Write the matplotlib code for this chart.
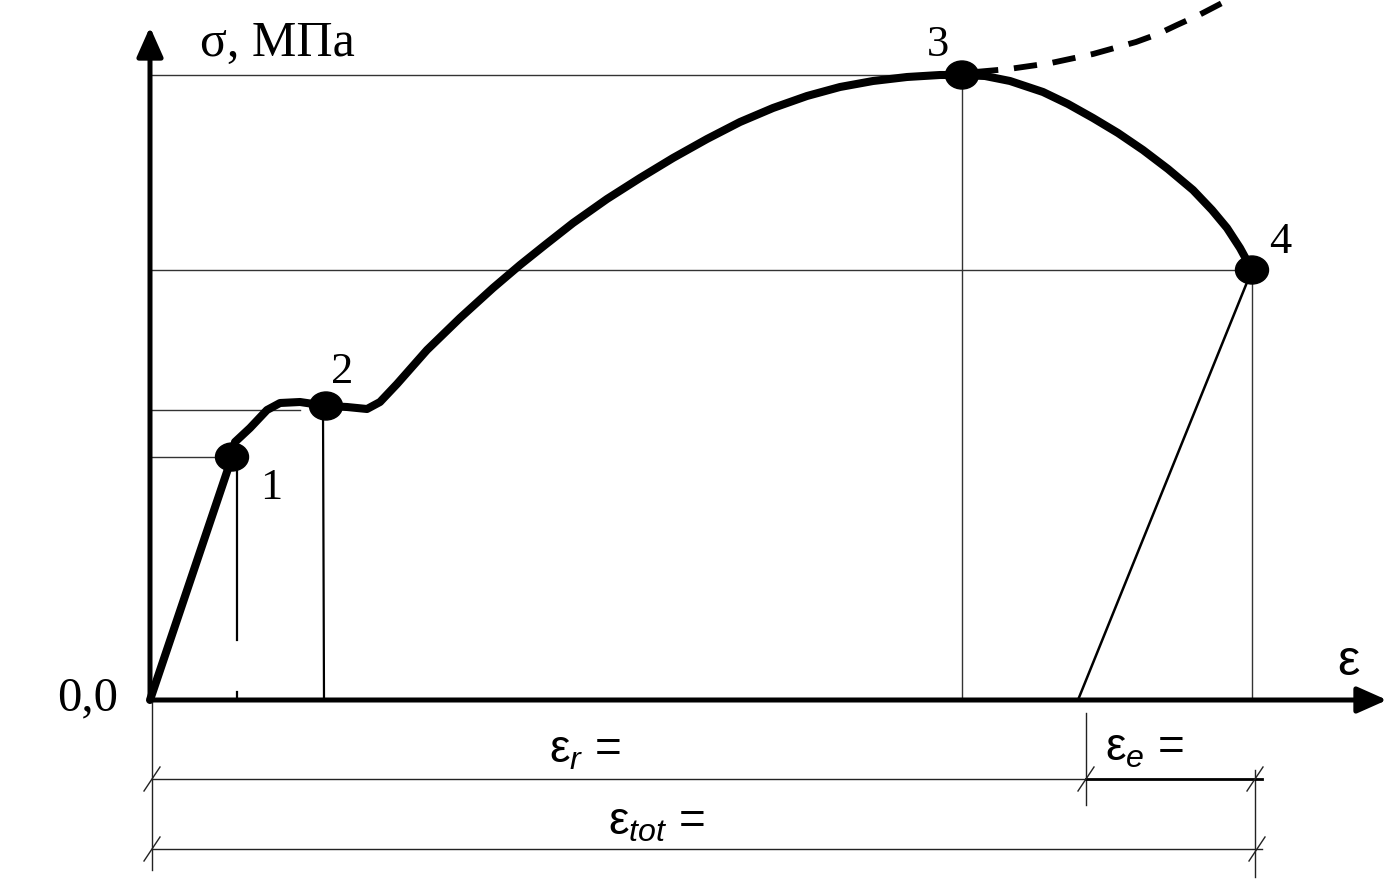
import numpy as np
import matplotlib
matplotlib.use("Agg")
from matplotlib import pyplot as plt
from matplotlib.patches import Ellipse

plt.rcParams['mathtext.fontset'] = 'custom'
plt.rcParams['mathtext.it'] = 'Liberation Sans:italic'
plt.rcParams['mathtext.rm'] = 'Liberation Sans'

# strain / stress (arbitrary units, origin at 0,0)
eps = [0, 82, 85, 100, 117, 130, 150, 177, 197, 217, 230, 247, 277, 310, 343,
       370, 395, 423, 457, 490, 523, 557, 590, 623, 657, 690, 723, 757, 790,
       811, 835, 860, 893, 918, 943, 968, 993, 1018, 1043, 1062, 1077, 1090, 1102]
sig = [0, 243, 258, 272, 290, 297, 298, 294, 293, 291, 298, 316, 350, 382, 412,
       435, 455, 477, 501, 522, 542, 561, 578, 592, 604, 613, 619, 623, 625,
       625, 624, 619, 608, 596, 582, 567, 550, 531, 510, 490, 472, 452, 430]

# true curve after point 3 (dashed)
eps_dash = [825, 859, 901, 943, 986, 1008, 1027, 1049, 1074, 1100]
sig_dash = [628, 631, 637, 646, 658, 666, 675, 685, 698, 712]

# characteristic points 1..4
pt_eps = [82, 176, 812, 1102]
pt_sig = [243, 294, 625, 430]
pt_lab = ['1', '2', '3', '4']
lab_eps = [121, 192, 788, 1130]
lab_sig = [212, 328, 655, 458]

eps_resid = 928  # strain left after unloading from point 4

fig = plt.figure(figsize=(13.88, 8.91), dpi=100)
ax = fig.add_axes([0, 0, 1, 1])
ax.set_xlim(-150, 1238)
ax.set_ylim(-191, 700)
ax.axis('off')

thin = dict(color='#333333', lw=1.0)

# helper lines to the axes
ax.plot([0, pt_eps[2]], [pt_sig[2]] * 2, **thin)
ax.plot([0, pt_eps[3]], [pt_sig[3]] * 2, **thin)
ax.plot([0, 150], [290, 290], **thin)
ax.plot([0, pt_eps[0]], [pt_sig[0]] * 2, **thin)
ax.plot([pt_eps[2]] * 2, [0, pt_sig[2]], **thin)
ax.plot([pt_eps[3]] * 2, [0, pt_sig[3]], **thin)
ax.plot([174, 173], [0, 292], color='black', lw=1.6)
ax.plot([87, 87], [60, 235], color='black', lw=1.6)
ax.plot([87, 87], [3, 8], color='black', lw=1.6)

# unloading line
ax.plot([eps_resid, pt_eps[3]], [0, pt_sig[3]], color='black', lw=1.8)

# the curve
ax.plot(eps, sig, color='black', lw=5.8, solid_joinstyle='round', solid_capstyle='round')
ax.plot(eps_dash, sig_dash, color='black', lw=4.2, dashes=(4, 2.7))

for x, y in zip(pt_eps, pt_sig):
    ax.add_patch(Ellipse((x, y), 33, 28, color='black', zorder=5))
for t, x, y in zip(pt_lab, lab_eps, lab_sig):
    ax.text(x, y, t, fontsize=32, family='Liberation Serif', ha='center', va='center')

# axes with arrows
arr = dict(arrowstyle='-|>,head_length=0.9,head_width=0.4', color='black',
           lw=3.6, mutation_scale=20, shrinkA=0, shrinkB=0)
ax.annotate('', xy=(1237, 0), xytext=(0, 0), arrowprops=arr)
ax.annotate('', xy=(0, 673), xytext=(0, 0), arrowprops=arr)

ax.text(50, 656, 'σ, МПа', fontsize=36, family='Liberation Serif', ha='left', va='center')
ax.text(-32, 2, '0,0', fontsize=35, family='Liberation Serif', ha='right', va='center')
ax.text(1198, 38, 'ε', fontsize=36, family='Liberation Sans', ha='center', va='center')

# dimension lines below the axis
dim = dict(color='#222222', lw=1.0)
ax.plot([2, 2], [0, -170], **dim)
ax.plot([936, 936], [-13, -105], **dim)
ax.plot([1105, 1105], [-70, -177], **dim)
ax.plot([2, 936], [-79, -79], **dim)
ax.plot([936, 1112], [-79, -79], color='black', lw=2.0)
ax.plot([2, 1112], [-149, -149], **dim)
for x, y in [(2, -79), (936, -79), (1105, -79), (2, -149), (1107, -149)]:
    ax.plot([x - 8, x + 8], [y - 12, y + 12], color='#222222', lw=1.0)

ax.text(435, -50, 'ε$_{r}$ =', fontsize=33, family='Liberation Sans', ha='center', va='center')
ax.text(995, -48, 'ε$_{e}$ =', fontsize=33, family='Liberation Sans', ha='center', va='center')
ax.text(507, -122, 'ε$_{tot}$ =', fontsize=33, family='Liberation Sans', ha='center', va='center')

fig.savefig('out.png', dpi=100)
